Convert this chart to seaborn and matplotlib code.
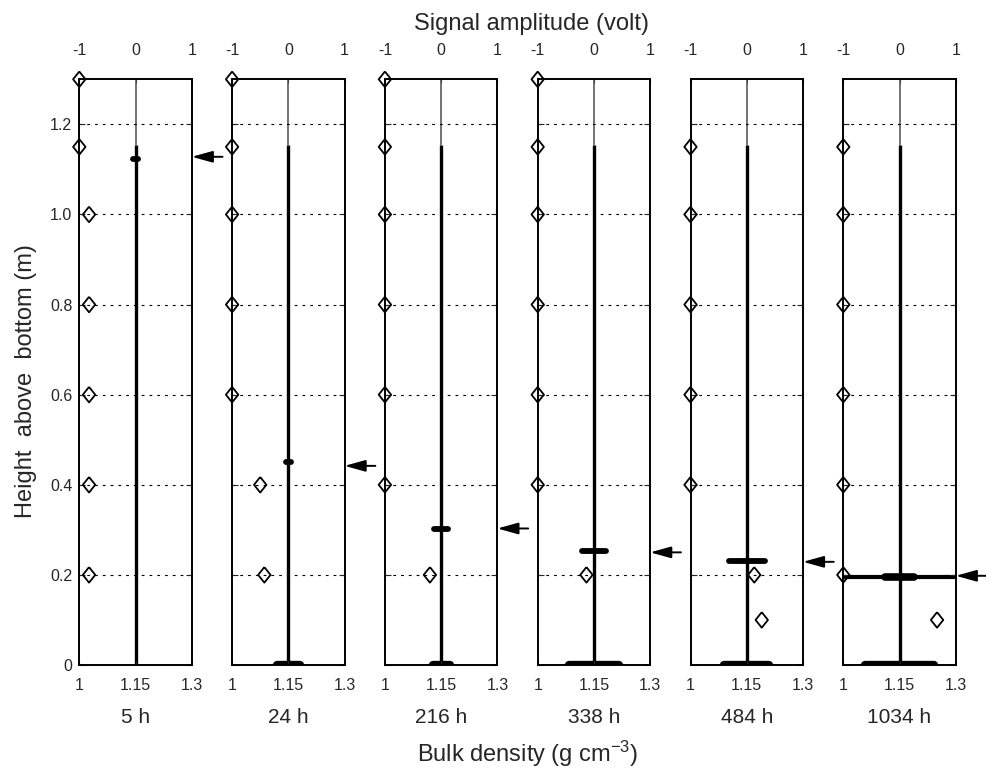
import pandas as pd
import matplotlib
matplotlib.use('Agg')
import matplotlib.pyplot as plt
import seaborn as sns

# panel labels (elapsed time)
times = ['5 h', '24 h', '216 h', '338 h', '484 h', '1034 h']

# bulk density profiles: sample heights (m) and densities (g cm-3)
heights = [
    [1.3, 1.15, 1.0, 0.8, 0.6, 0.4, 0.2],
    [1.3, 1.15, 1.0, 0.8, 0.6, 0.4, 0.2],
    [1.3, 1.15, 1.0, 0.8, 0.6, 0.4, 0.2],
    [1.3, 1.15, 1.0, 0.8, 0.6, 0.4, 0.2],
    [1.15, 1.0, 0.8, 0.6, 0.4, 0.2, 0.1],
    [1.15, 1.0, 0.8, 0.6, 0.4, 0.2, 0.1],
]
densities = [
    [1.0, 1.0, 1.026, 1.026, 1.026, 1.026, 1.026],
    [1.0, 1.0, 1.0, 1.0, 1.0, 1.075, 1.086],
    [1.0, 1.0, 1.0, 1.0, 1.0, 1.0, 1.12],
    [1.0, 1.0, 1.0, 1.0, 1.0, 1.0, 1.13],
    [1.0, 1.0, 1.0, 1.0, 1.0, 1.17, 1.19],
    [1.0, 1.0, 1.0, 1.0, 1.0, 1.0, 1.25],
]

# signal trace: interface echo height (m) and half width (volt)
echo_h = [1.122, 0.451, 0.302, 0.254, 0.231, 0.196]
echo_w = [0.05, 0.04, 0.12, 0.22, 0.32, 1.0]
echo_core = [0.0, 0.0, 0.0, 0.0, 0.0, 0.25]
bottom_w = [0.0, 0.2, 0.15, 0.45, 0.40, 0.62]
trace_top = 1.155
arrow_h = [1.128, 0.442, 0.303, 0.250, 0.229, 0.198]

yticks = [0, 0.2, 0.4, 0.6, 0.8, 1.0, 1.2]
ytick_labels = ['0', '0.2', '0.4', '0.6', '0.8', '1.0', '1.2']
dens_ticks = [1.0, 1.15, 1.3]
dens_labels = ['1', '1.15', '1.3']
amp_ticks = [-1, 0, 1]
amp_labels = ['-1', '0', '1']

sns.set_style('white')
plt.rcParams['font.family'] = ['Liberation Sans', 'DejaVu Sans']
plt.rcParams['mathtext.fontset'] = 'custom'
plt.rcParams['mathtext.rm'] = 'Liberation Sans'
plt.rcParams['mathtext.it'] = 'Liberation Sans'

fig = plt.figure(figsize=(9.86, 7.68), dpi=100)
W, H = 986.0, 768.0

diamond = [(0, 1), (0.8, 0), (0, -1), (-0.8, 0), (0, 1)]

for i in range(6):
    left = 79.3 + i * 152.8
    ax = fig.add_axes([left / W, 103 / H, 112.5 / W, 585.7 / H])
    ax.set_xlim(1.0, 1.3)
    ax.set_ylim(0, 1.3)

    # dashed horizontal grid
    for y in yticks[1:]:
        ax.axhline(y, color='k', lw=0.8, ls=(0, (2.5, 4.5)), zorder=0)

    # signal amplitude axis on top
    ax2 = ax.twiny()
    ax2.set_xlim(-1, 1)
    ax2.plot([0, 0], [0, trace_top], color='k', lw=2.4, solid_capstyle='butt')
    ax2.plot([0, 0], [trace_top, 1.3], color='0.3', lw=1.1)
    ax2.plot([-echo_w[i], echo_w[i]], [echo_h[i], echo_h[i]], color='k',
             lw=4.2 if i < 5 else 3.0, solid_capstyle='round')
    if echo_core[i] > 0:
        ax2.plot([-echo_core[i], echo_core[i]], [echo_h[i], echo_h[i]],
                 color='k', lw=5.5, solid_capstyle='round')
    if bottom_w[i] > 0:
        ax2.plot([-bottom_w[i], bottom_w[i]], [0, 0], color='k', lw=6,
                 solid_capstyle='round')
    ax2.set_xticks(amp_ticks)
    ax2.set_xticklabels(amp_labels)
    ax2.tick_params(axis='x', direction='in', length=3, pad=15, labelsize=11.5)
    for sp in ax2.spines.values():
        sp.set_visible(False)

    # density samples
    df = pd.DataFrame({'density': densities[i], 'height': heights[i]})
    sns.scatterplot(data=df, x='density', y='height', ax=ax,
                    marker=diamond, s=125, facecolor='none', edgecolor='k',
                    linewidth=1.3, clip_on=False, zorder=5)
    ax.set_zorder(ax2.get_zorder() + 1)
    ax.patch.set_visible(False)

    ax.set_xticks(dens_ticks)
    ax.set_xticklabels(dens_labels)
    ax.set_yticks(yticks)
    if i == 0:
        ax.set_yticklabels(ytick_labels)
    else:
        ax.set_yticklabels([])
    ax.tick_params(axis='x', direction='in', length=3, pad=9, labelsize=11.5)
    ax.tick_params(axis='y', direction='in', length=4, pad=5, labelsize=11.5,
                   right=True, left=True)
    ax.set_xlabel('')
    ax.set_ylabel('')
    for sp in ax.spines.values():
        sp.set_visible(True)
        sp.set_color('k')
        sp.set_linewidth(1.4)

    # arrow marking the interface
    ax.annotate('', xy=(1.3, arrow_h[i]), xytext=(1.382, arrow_h[i]),
                arrowprops=dict(arrowstyle='-|>,head_length=0.9,head_width=0.25',
                                color='k', lw=1.4, shrinkA=0, shrinkB=0,
                                mutation_scale=14),
                annotation_clip=False)

    ax.text(0.5, (665 - 723) / 585.7, times[i], transform=ax.transAxes,
            ha='center', va='baseline', fontsize=15)

fig.text(532 / W, 1 - 30 / H, 'Signal amplitude (volt)', ha='center',
         va='baseline', fontsize=17)
fig.text(528 / W, 1 - 762 / H, 'Bulk density (g cm$^{-3}$)', ha='center',
         va='baseline', fontsize=17)
fig.text(26 / W, 1 - 381 / H, 'Height  above  bottom (m)', ha='center',
         va='center', rotation=90, fontsize=17)

fig.savefig('out.png', dpi=100)
